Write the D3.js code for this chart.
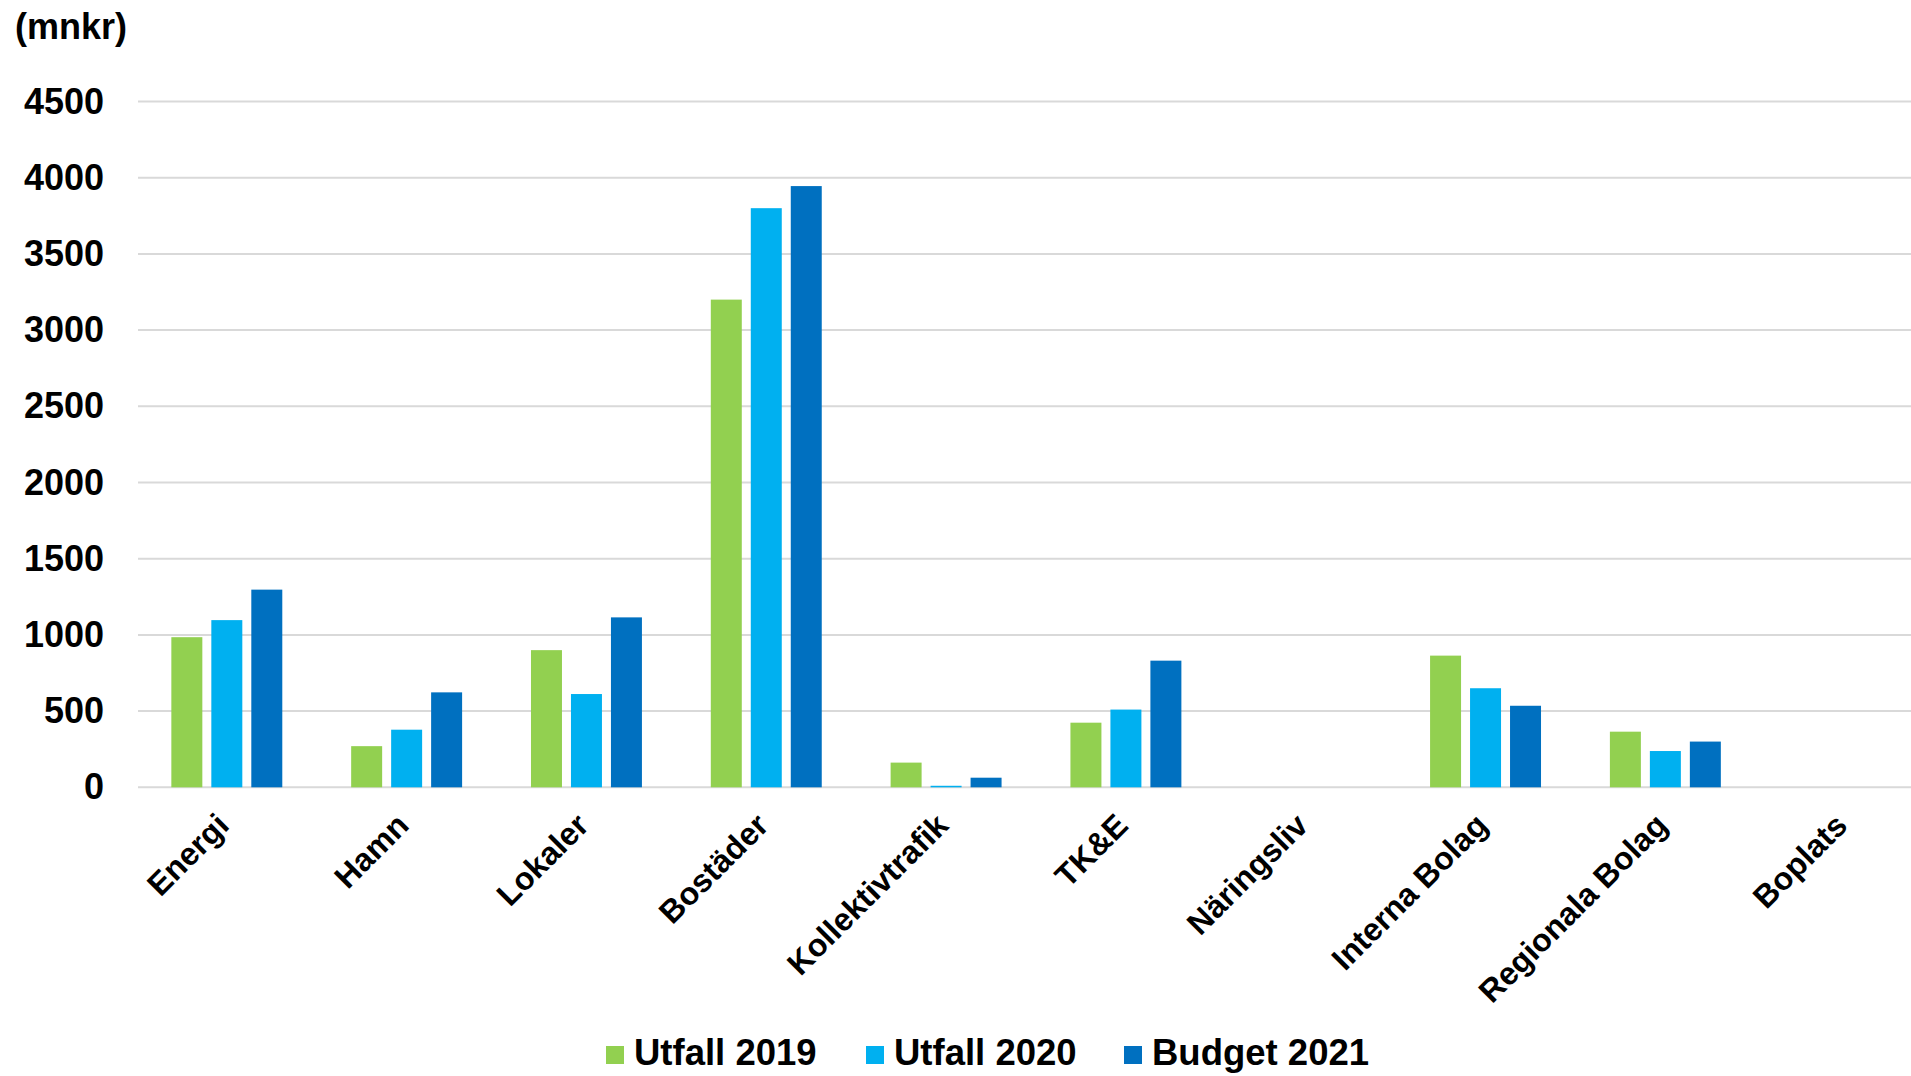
<!DOCTYPE html>
<html>
<head>
<meta charset="utf-8">
<script src="https://cdn.jsdelivr.net/npm/d3@7"></script>
<style>
  body { margin: 0; background: #fff; }
  svg { font-family: "Liberation Sans", Arial, sans-serif; font-weight: bold; }
</style>
</head>
<body>
<svg id="chart" width="1911" height="1076"></svg>
<script>
// data (mnkr)
var categories = ["Energi", "Hamn", "Lokaler", "Bostäder", "Kollektivtrafik", "TK&E", "Näringsliv", "Interna Bolag", "Regionala Bolag", "Boplats"];
var seriesNames = ["Utfall 2019", "Utfall 2020", "Budget 2021"];
var utfall2019 = [985, 270, 900, 3200, 162, 424, 0, 864, 365, 0];
var utfall2020 = [1097, 378, 612, 3800, 10, 510, 0, 650, 238, 0];
var budget2021 = [1297, 623, 1115, 3945, 63, 831, 0, 535, 300, 0];
var yTicks = [0, 500, 1000, 1500, 2000, 2500, 3000, 3500, 4000, 4500];
var colors = ["#92D050", "#00B0F0", "#0070C0"];

var series = [utfall2019, utfall2020, budget2021];

var svg = d3.select("#chart");
// the plot runs a bit past the right edge of the picture
var plotLeft = 137, plotRight = 1935, plotTop = 101.5, plotBottom = 787.3;

var x0 = d3.scaleBand().domain(categories).range([plotLeft, plotRight])
  .paddingInner(0.383).paddingOuter(0.191);
var x1 = d3.scaleBand().domain(seriesNames).range([0, x0.bandwidth()])
  .paddingInner(0.225);
var y = d3.scaleLinear().domain([0, 4500]).range([plotBottom, plotTop]);

// gridlines
svg.append("g").selectAll("line").data(yTicks).join("line")
  .attr("x1", 138).attr("x2", 1911)
  .attr("y1", d => y(d)).attr("y2", d => y(d))
  .attr("stroke", "#d9d9d9").attr("stroke-width", 2);

// y axis labels
var yAxis = d3.axisLeft(y).tickValues(yTicks).tickFormat(d3.format("d")).tickSize(0).tickPadding(0);
var yg = svg.append("g").attr("transform", "translate(104,0)").call(yAxis);
yg.select(".domain").remove();
yg.selectAll("text").attr("font-size", 36).attr("fill", "#000")
  .attr("font-family", "Liberation Sans, Arial, sans-serif").attr("font-weight", "bold");

// bars
var groups = svg.append("g").selectAll("g").data(categories).join("g")
  .attr("transform", d => "translate(" + x0(d) + ",0)");
groups.selectAll("rect")
  .data((d, i) => series.map((s, j) => ({ name: seriesNames[j], value: s[i], c: colors[j] })))
  .join("rect")
  .attr("x", d => x1(d.name))
  .attr("width", x1.bandwidth())
  .attr("y", d => y(d.value))
  .attr("height", d => plotBottom - y(d.value))
  .attr("fill", d => d.c);

// category labels
var xAxis = d3.axisBottom(x0).tickSize(0).tickPadding(0);
var xg = svg.append("g").attr("transform", "translate(0," + plotBottom + ")").call(xAxis);
xg.select(".domain").remove();
xg.selectAll("text")
  .attr("font-size", 32).attr("fill", "#000")
  .attr("font-family", "Liberation Sans, Arial, sans-serif").attr("font-weight", "bold")
  .attr("text-anchor", "end")
  .attr("dy", null)
  .attr("transform", "translate(4,40) rotate(-45)");

// unit label
svg.append("text").attr("x", 15).attr("y", 39)
  .attr("font-size", 36).text("(mnkr)");

// legend
var legendX = [606, 866, 1124];
var leg = svg.append("g").selectAll("g").data(seriesNames).join("g")
  .attr("transform", (d, i) => "translate(" + legendX[i] + ",1046)");
leg.append("rect").attr("width", 18).attr("height", 18).attr("fill", (d, i) => colors[i]);
leg.append("text").attr("x", 28).attr("y", 19).attr("font-size", 36.5).text(d => d);
</script>
</body>
</html>
